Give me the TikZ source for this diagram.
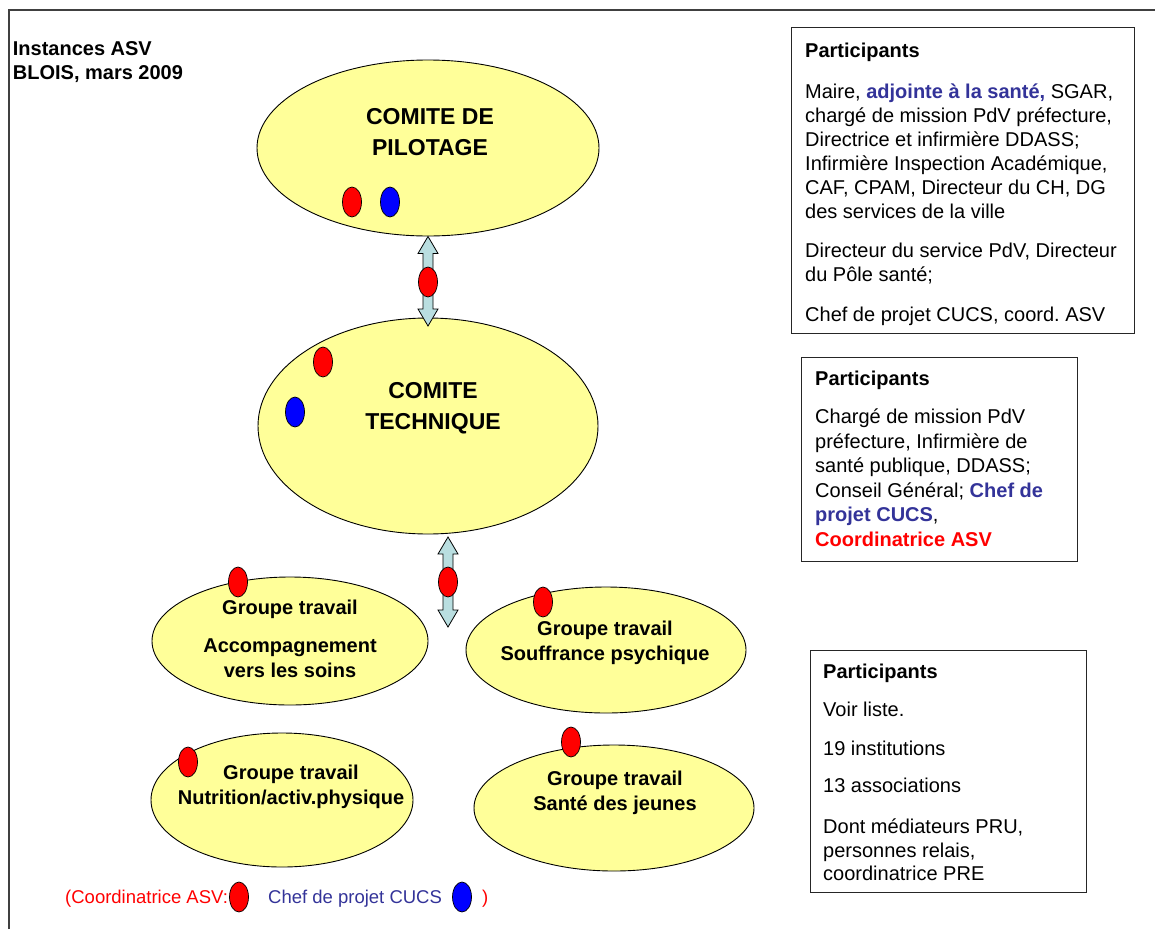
\documentclass[tikz,border=0pt]{standalone}
\usepackage{fontspec}
\setmainfont{Liberation Sans}
\usetikzlibrary{shapes.geometric,calc}
\definecolor{ellfill}{HTML}{FFFF99}
\definecolor{arrfill}{HTML}{B9DEE0}
\definecolor{navy}{HTML}{333399}
\newcommand{\lines}[2]{\begin{tabular}[t]{@{}#1@{}}#2\end{tabular}}
\frenchspacing

\begin{document}
\begin{tikzpicture}[x=1pt,y=-1pt,
  blob/.style={ellipse, draw=black, line width=0.9pt, fill=ellfill, inner sep=0pt},
  dotr/.style={ellipse, draw=black, line width=0.7pt, fill=red,
               minimum width=19pt, minimum height=30pt, inner sep=0pt},
  dotb/.style={dotr, fill=blue},
  infobox/.style={draw=black!85, line width=1pt, anchor=north west, inner sep=0pt},
  boxtext/.style={anchor=base west, inner sep=0pt},
  ctitle/.style={anchor=base, inner sep=0pt, font=\fontsize{23}{31}\selectfont\bfseries},
  gtitle/.style={anchor=base, inner sep=0pt, font=\fontsize{20}{25}\selectfont\bfseries},
  dblarrow/.style={draw=black, line width=0.8pt, fill=arrfill, line join=miter},
  frame/.style={draw=black!75, line width=1.3pt}
]
\useasboundingbox (0,0) rectangle (1155,929);

% page frame (top and left edges)
\coordinate (fbl) at (9,929);
\coordinate (ftl) at (9,10);
\coordinate (ftr) at (1155,10);
\draw[frame] (fbl) -- (ftl) -- (ftr);

% heading
\node[anchor=base west, inner sep=0pt, font=\fontsize{20}{24}\selectfont\bfseries] (title) at (12.7,55)
  {\lines{l}{Instances ASV\\BLOIS, mars 2009}};

% committees and working groups
\node[blob, minimum width=342pt, minimum height=176pt] (cp) at (428,148) {};
\node[blob, minimum width=340pt, minimum height=216pt] (ct) at (428,426) {};
\node[blob, minimum width=276pt, minimum height=128pt] (ga) at (290,641) {};
\node[blob, minimum width=280pt, minimum height=126pt] (gb) at (606,650) {};
\node[blob, minimum width=262pt, minimum height=134pt] (gc) at (282,800) {};
\node[blob, minimum width=280pt, minimum height=126pt] (gd) at (614,808) {};

\node[ctitle] (cpt) at (430,124) {\lines{c}{COMITE DE\\PILOTAGE}};
\node[ctitle] (ctt) at (433,398) {\lines{c}{COMITE\\TECHNIQUE}};
\node[gtitle] (gat) at (290,614) {\lines{c}{Groupe travail\\[13pt]Accompagnement\\vers les soins}};
\node[gtitle] (gbt) at (605,635) {\lines{c}{Groupe travail\\Souffrance psychique}};
\node[gtitle] (gct) at (291,779) {\lines{c}{Groupe travail\\Nutrition/activ.physique}};
\node[gtitle] (gdt) at (615,785) {\lines{c}{Groupe travail\\Santé des jeunes}};

% double arrows between the levels
\coordinate (a1t) at (cp.south);
\coordinate (a1b) at (428,326);
\coordinate (a2t) at (448,537);
\coordinate (a2b) at (448,627);
\foreach \t/\b in {a1t/a1b, a2t/a2b} {
  \draw[dblarrow] (\t) -- ($(\t)+(10,17)$) -- ($(\t)+(5,17)$) -- ($(\b)+(5,-17)$)
    -- ($(\b)+(10,-17)$) -- (\b) -- ($(\b)+(-10,-17)$) -- ($(\b)+(-5,-17)$)
    -- ($(\t)+(-5,17)$) -- ($(\t)+(-10,17)$) -- cycle;
}

% markers: coordinatrice (red), chef de projet (blue)
\node[dotr] (cpr) at (352,202) {};
\node[dotb] (cpb) at (390,202) {};
\node[dotr] (a1r) at (428,282) {};
\node[dotr] (ctr) at (323,362) {};
\node[dotb] (ctb) at (295,412) {};
\node[dotr] (a2r) at (448,582) {};
\node[dotr] (gar) at (238,582) {};
\node[dotr] (gbr) at (543,602) {};
\node[dotr] (gcr) at (188,762) {};
\node[dotr] (gdr) at (571,742) {};

% participant boxes
\node[infobox, minimum width=343pt, minimum height=306pt] (box1) at (791,27) {};
\node[infobox, minimum width=276pt, minimum height=204pt] (box2) at (801,357) {};
\node[infobox, minimum width=276pt, minimum height=242pt] (box3) at (810,650) {};

\node[boxtext, font=\fontsize{20}{24}\selectfont] (box1t) at (805,57) {\lines{l}{%
  \textbf{Participants}\\[17.7pt]
  Maire, \textcolor{navy}{\textbf{adjointe à la santé,}} SGAR,\\
  chargé de mission PdV préfecture,\\
  Directrice et infirmière DDASS;\\
  Infirmière Inspection Académique,\\
  CAF, CPAM, Directeur du CH, DG\\
  des services de la ville\\[14.3pt]
  Directeur du service PdV, Directeur\\
  du Pôle santé;\\[16pt]
  Chef de projet CUCS, coord. ASV}};

\node[boxtext, font=\fontsize{20}{24.5}\selectfont] (box2t) at (815,385) {\lines{l}{%
  \textbf{Participants}\\[14pt]
  Chargé de mission PdV\\
  préfecture, Infirmière de\\
  santé publique, DDASS;\\
  Conseil Général; \textcolor{navy}{\textbf{Chef de}}\\
  \textcolor{navy}{\textbf{projet CUCS}},\\
  \textcolor{red}{\textbf{Coordinatrice ASV}}}};

\node[boxtext, font=\fontsize{20}{23.4}\selectfont] (box3t) at (823,678.5) {\lines{l}{%
  \textbf{Participants}\\[14.9pt]
  Voir liste.\\[14.9pt]
  19 institutions\\[13.6pt]
  13 associations\\[18.1pt]
  Dont médiateurs PRU,\\
  personnes relais,\\
  coordinatrice PRE}};

% legend
\node[boxtext, font=\fontsize{18.5}{22}\selectfont, text=red] (legr) at (65,903) {(Coordinatrice ASV:};
\node[dotr] (legrd) at (239,897) {};
\node[boxtext, font=\fontsize{18.5}{22}\selectfont, text=navy] (legb) at (268,903) {Chef de projet CUCS};
\node[dotb] (legbd) at (462,897) {};
\node[boxtext, font=\fontsize{18.5}{22}\selectfont, text=red] (legc) at (482,903) {)};
\end{tikzpicture}
\end{document}
